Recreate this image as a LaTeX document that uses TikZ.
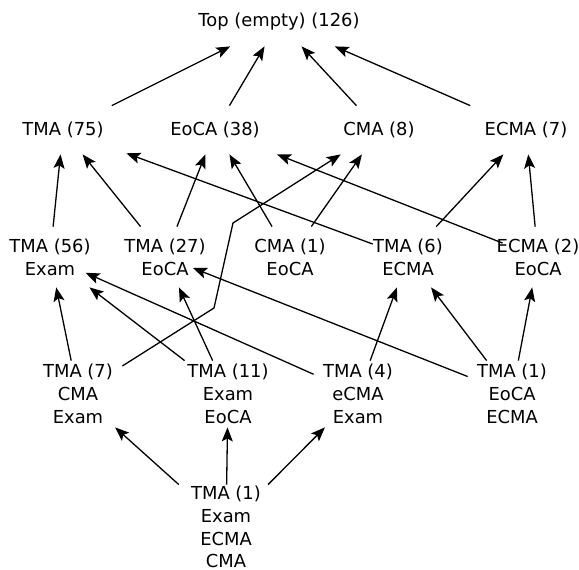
\documentclass[tikz,border=0pt]{standalone}
\usepackage{fontspec}
\setmainfont{DejaVu Sans}
\usetikzlibrary{arrows.meta}

\begin{document}
\begin{tikzpicture}[
    x=0.5pt, y=-0.5pt,
    font=\fontsize{8.95}{11.35}\selectfont,
    concept/.style={inner sep=0pt, align=center, text=black},
    oneline/.style={concept, minimum width=63pt, minimum height=24pt},
    twoline/.style={concept, minimum width=48pt, minimum height=30pt},
    threeline/.style={concept, minimum width=44pt, minimum height=33pt},
    fourline/.style={concept, minimum width=50pt, minimum height=42pt},
    arrow/.style={-{Stealth[length=7pt, width=5.5pt, inset=1.5pt]}, line width=0.65pt, black}
]
\useasboundingbox (0,0) rectangle (579,569);

\node[oneline] (top) at (279, 22) {Top (empty) (126)};

\node[oneline] (tma75)  at (63, 130)  {TMA (75)};
\node[oneline] (eoca38) at (215, 130) {EoCA (38)};
\node[oneline] (cma8)   at (379, 130) {CMA (8)};
\node[oneline] (ecma7)  at (526, 130) {ECMA (7)};

\node[twoline] (tma56) at (50, 257)  {TMA (56)\\Exam};
\node[twoline] (tma27) at (165, 257) {TMA (27)\\EoCA};
\node[twoline] (cma1)  at (290, 257) {CMA (1)\\EoCA};
\node[twoline] (tma6)  at (408, 257) {TMA (6)\\ECMA};
\node[twoline] (ecma2) at (538, 257) {ECMA (2)\\EoCA};

\node[threeline] (tma7)  at (78, 394)  {TMA (7)\\CMA\\Exam};
\node[threeline] (tma11) at (228, 394) {TMA (11)\\Exam\\EoCA};
\node[threeline] (tma4)  at (358, 394) {TMA (4)\\eCMA\\Exam};
\node[threeline] (tma1)  at (512, 394) {TMA (1)\\EoCA\\ECMA};

\node[fourline] (base) at (226, 527) {TMA (1)\\Exam\\ECMA\\CMA};

\foreach \a/\b in {tma75/top, eoca38/top, cma8/top, ecma7/top,
    tma56/tma75, tma27/tma75, tma27/eoca38, cma1/eoca38, cma1/cma8,
    tma6/ecma7, ecma2/ecma7,
    tma7/tma56, tma11/tma56, tma11/tma27, tma4/tma6, tma1/tma6, tma1/ecma2,
    base/tma7, base/tma11, base/tma4} {
    \draw[arrow] (\a) -- (\b);
}

% long shallow edges
\draw[arrow, shorten <=-7pt] (tma6) -- (tma75);
\draw[arrow, shorten <=-7pt] (ecma2) -- (eoca38);
\draw[arrow, shorten >=-7pt] (tma4) -- (tma56);
\draw[arrow, shorten >=-11pt] (tma1) -- (tma27);

% bent edge
\coordinate (bendA) at (214, 308);
\coordinate (bendB) at (233, 223);
\draw[arrow] (tma7) -- (bendA) -- (bendB) -- (cma8);
\end{tikzpicture}
\end{document}
